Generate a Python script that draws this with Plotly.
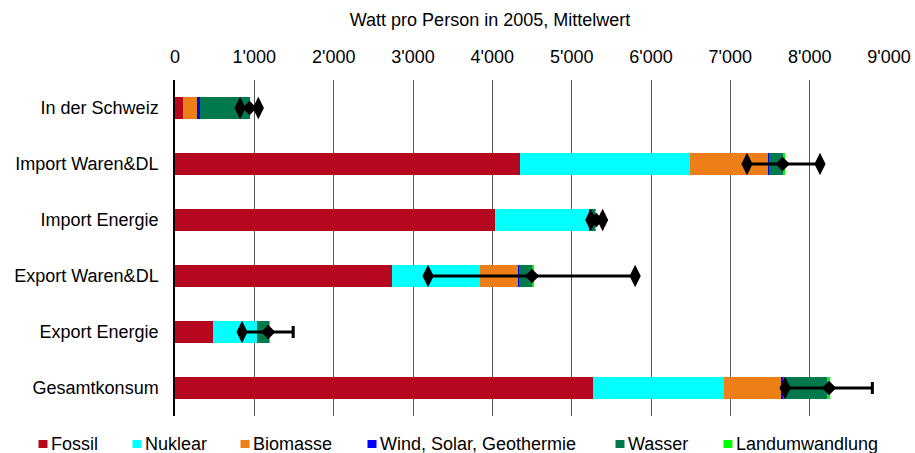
import plotly.graph_objects as go

categories = ["In der Schweiz", "Import Waren&DL", "Import Energie",
              "Export Waren&DL", "Export Energie", "Gesamtkonsum"]

series_names = ["Fossil", "Nuklear", "Biomasse", "Wind, Solar, Geothermie", "Wasser", "Landumwandlung"]
series_colors = ["#B5081E", "#00FFFF", "#EE7F17", "#0000FF", "#007A4D", "#00FF00"]

fossil = [100, 4350, 4035, 2735, 480, 5270]
nuklear = [0, 2140, 1195, 1110, 555, 1650]
biomasse = [180, 985, 0, 480, 0, 720]
wind = [40, 10, 5, 10, 0, 20]
wasser = [620, 175, 60, 175, 150, 570]
landum = [0, 30, 5, 10, 5, 20]
series_values = [fossil, nuklear, biomasse, wind, wasser, landum]

mean_val = [940, 7660, 5310, 4500, 1175, 8245]
err_low = [820, 7210, 5240, 3190, 845, 7690]
err_high = [1050, 8130, 5390, 5800, 1490, 8790]
show_low_marker = [True, True, True, True, True, True]
show_high_marker = [True, True, True, True, False, False]

tick_vals = [0, 1000, 2000, 3000, 4000, 5000, 6000, 7000, 8000, 9000]
tick_text = ["0", "1'000", "2'000", "3'000", "4'000", "5'000", "6'000", "7'000", "8'000", "9'000"]

FONT = "Liberation Sans, Arial, sans-serif"
FS = 18

# plot-area geometry in pixels (layout only)
W, H = 915, 453
ML, MR, MT, MB = 175, 26, 80, 37
PW, PH = W - ML - MR, H - MT - MB

fig = go.Figure()
for name, color, vals in zip(series_names, series_colors, series_values):
    fig.add_trace(go.Bar(
        y=categories, x=vals, name=name, orientation="h",
        marker=dict(color=color, line=dict(width=0)), width=0.4, showlegend=False,
    ))

fig.add_trace(go.Scatter(
    y=categories, x=mean_val, mode="markers", showlegend=False,
    marker=dict(symbol="diamond", size=11, color="black"),
    error_x=dict(type="data", symmetric=False,
                 array=[h - m for h, m in zip(err_high, mean_val)],
                 arrayminus=[m - l for l, m in zip(err_low, mean_val)],
                 color="black", thickness=3, width=6),
))

lo_y = [c for c, s in zip(categories, show_low_marker) if s]
lo_x = [v for v, s in zip(err_low, show_low_marker) if s]
hi_y = [c for c, s in zip(categories, show_high_marker) if s]
hi_x = [v for v, s in zip(err_high, show_high_marker) if s]
fig.add_trace(go.Scatter(y=lo_y + hi_y, x=lo_x + hi_x, mode="markers", showlegend=False,
                         marker=dict(symbol="diamond-tall", size=16, color="black")))

# manual legend (one row below plot)
legend_sq_px = [43, 137, 245, 372, 620, 728]
legend_y_px = 444
ly = (H - MB - legend_y_px) / PH
for name, color, sx in zip(series_names, series_colors, legend_sq_px):
    xp = (sx - ML) / PW
    fig.add_shape(type="rect", xref="paper", yref="paper", xsizemode="pixel", ysizemode="pixel",
                  xanchor=xp, yanchor=ly, x0=-4.5, x1=4.5, y0=-4, y1=4,
                  fillcolor=color, line=dict(width=0))
    fig.add_annotation(text=name, xref="paper", yref="paper", x=(sx + 6 - ML) / PW, y=ly,
                       xanchor="left", yanchor="middle", showarrow=False,
                       font=dict(family=FONT, size=FS, color="black"))

fig.update_layout(
    barmode="stack",
    width=W, height=H,
    margin=dict(l=ML, r=MR, t=MT, b=MB),
    paper_bgcolor="white", plot_bgcolor="white",
    font=dict(family=FONT, size=FS, color="black"),
    title=dict(text="Watt pro Person in 2005, Mittelwert", xref="container", x=490 / W,
               xanchor="center", yref="container", y=1 - 20 / H, yanchor="middle",
               font=dict(family=FONT, size=FS, color="black")),
    xaxis=dict(side="top", range=[0, 9000], tickvals=tick_vals, ticktext=tick_text,
               showgrid=True, gridcolor="#555555", gridwidth=1, zeroline=False,
               showline=False, ticks="", ticklabelstandoff=12, automargin=False,
               tickfont=dict(size=FS)),
    yaxis=dict(autorange="reversed", showline=True, linecolor="black", linewidth=1.5,
               ticks="", ticklabelstandoff=11, automargin=False, tickfont=dict(size=FS)),
    showlegend=False,
)

fig.write_html("out.html", config={"displayModeBar": False},
               post_script="document.body.style.margin='0px';document.body.style.overflow='hidden';")
